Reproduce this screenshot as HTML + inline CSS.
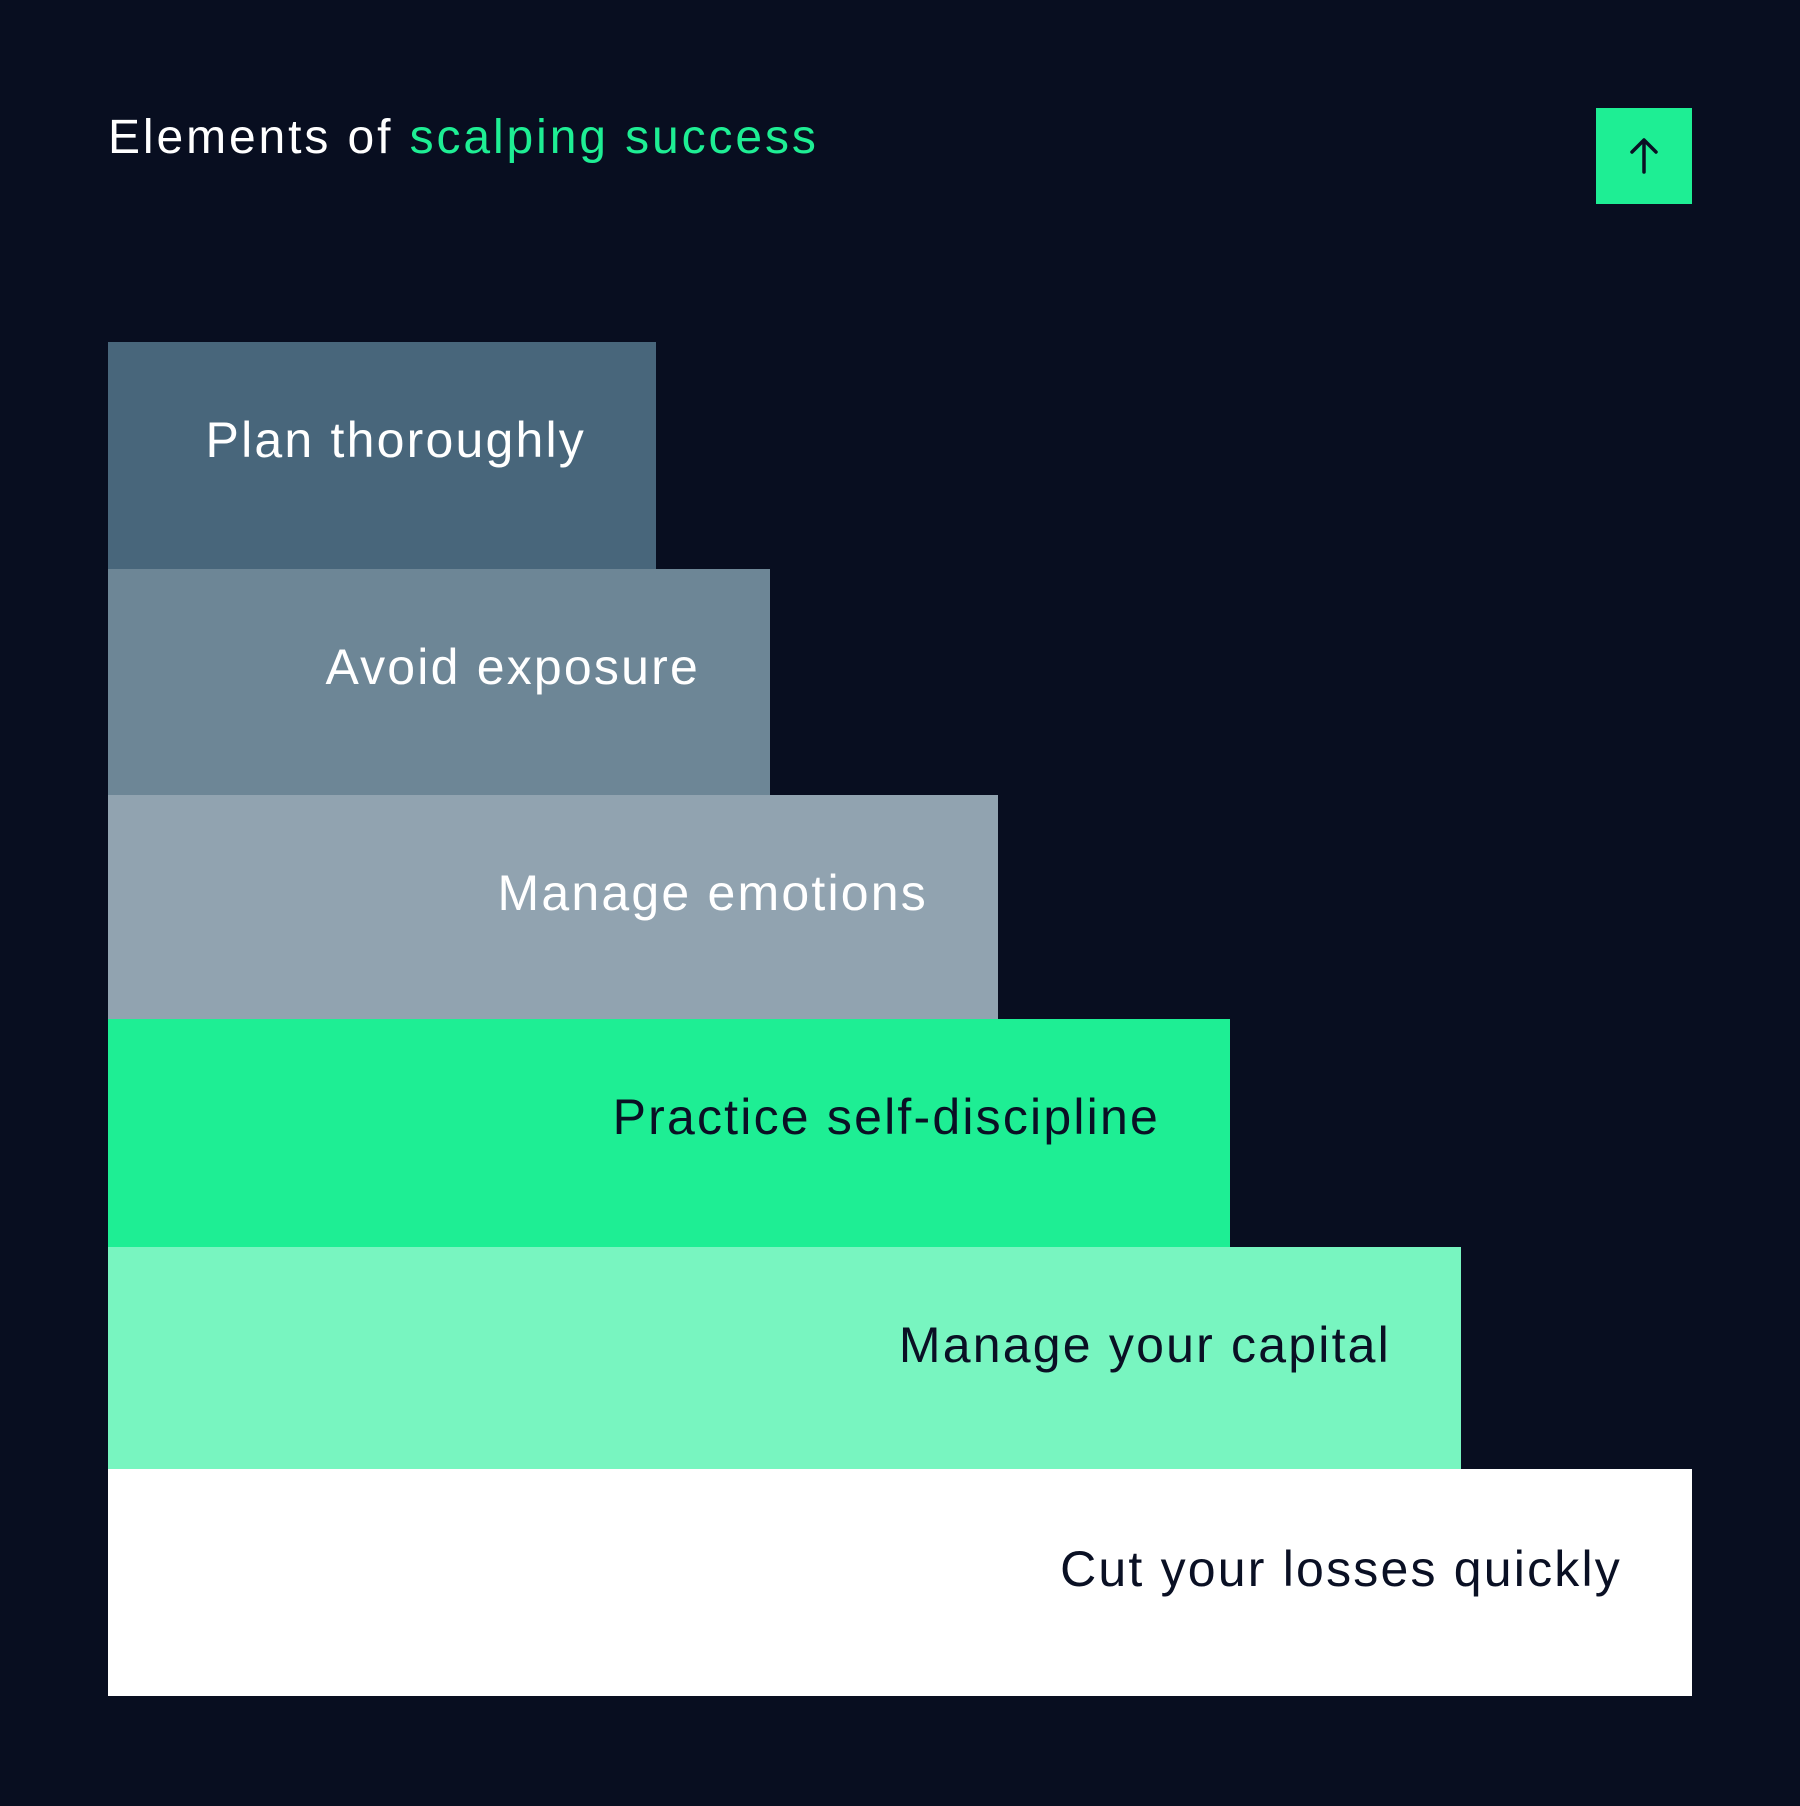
<!DOCTYPE html>
<html><head><meta charset="utf-8"><style>
html,body{margin:0;padding:0}
body{width:1800px;height:1806px;background:#080e20;position:relative;overflow:hidden;font-family:"Liberation Sans",sans-serif}
.t{position:absolute;left:108px;top:110px;font-size:48px;color:#fff;white-space:nowrap;line-height:56px;letter-spacing:2.9px}
.t span{color:#1eee94}
.btn{position:absolute;left:1596px;top:108px;width:96px;height:96px;background:#1eee94}
.b{position:absolute;left:108px;box-sizing:border-box;padding-right:70px;text-align:right;font-size:50px;line-height:60px;padding-top:68px;white-space:nowrap;letter-spacing:2.2px}
</style></head><body>
<div class="t">Elements of <span>scalping success</span></div>
<div class="btn"><svg width="96" height="96" viewBox="0 0 96 96"><path d="M48 64V32M36 44L48 32L60 44" stroke="#0a1024" stroke-width="3.5" fill="none" stroke-linecap="round" stroke-linejoin="round"/></svg></div>
<div class="b" style="top:342px;width:548px;height:227px;background:#48667b;color:#fff">Plan thoroughly</div>
<div class="b" style="top:569px;width:662px;height:226px;background:#6d8696;color:#fff">Avoid exposure</div>
<div class="b" style="top:795px;width:890px;height:224px;background:#91a3b0;color:#fff">Manage emotions</div>
<div class="b" style="top:1019px;width:1122px;height:228px;background:#1eee94;color:#0a1024">Practice self-discipline</div>
<div class="b" style="top:1247px;width:1353px;height:222px;background:#78f5c0;color:#0a1024">Manage your capital</div>
<div class="b" style="top:1469px;width:1584px;height:227px;background:#fff;color:#0a1024;padding-top:70px">Cut your losses quickly</div>
</body></html>
